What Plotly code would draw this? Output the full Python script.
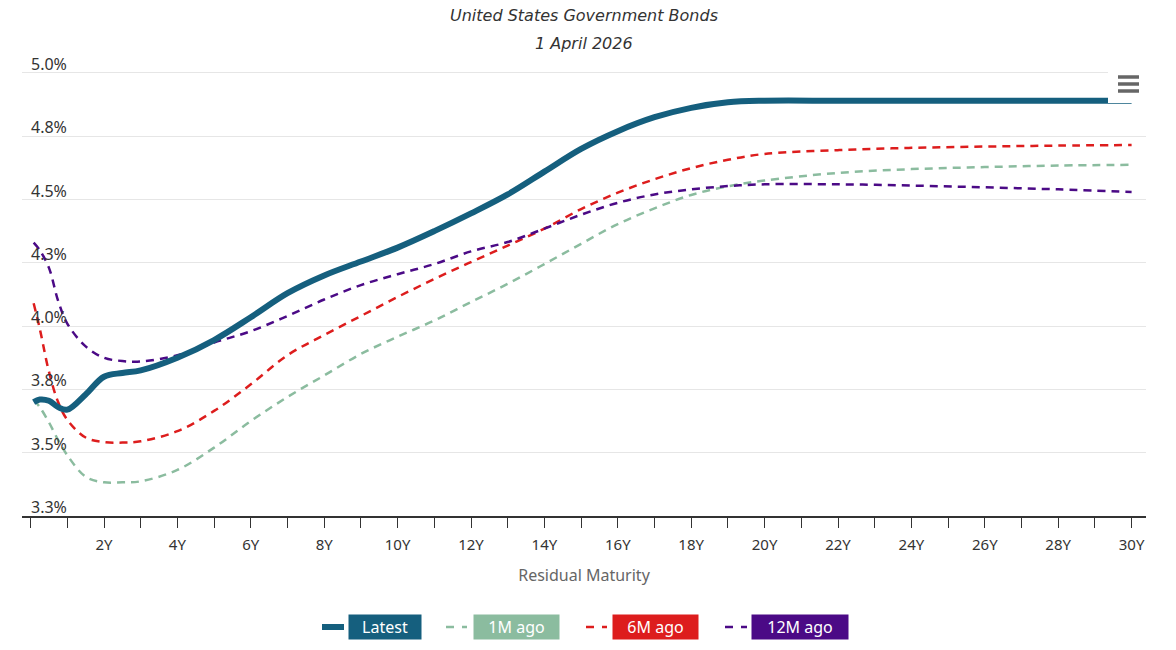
import plotly.graph_objects as go

# ---- data ----
maturity = [0.083, 0.25, 0.5, 0.75, 1, 1.5, 2, 2.5, 3, 4, 5, 6, 7, 8, 9, 10,
            11, 12, 13, 14, 15, 16, 17, 18, 19, 20, 22, 24, 26, 28, 30]

latest = [3.70, 3.71, 3.705, 3.68, 3.67, 3.73, 3.80, 3.815, 3.825, 3.875, 3.945,
          4.035, 4.13, 4.20, 4.255, 4.31, 4.375, 4.445, 4.52, 4.61, 4.70, 4.77,
          4.825, 4.862, 4.884, 4.89, 4.89, 4.89, 4.89, 4.89, 4.89]

m1_ago = [3.71, 3.68, 3.62, 3.55, 3.49, 3.405, 3.383, 3.383, 3.387, 3.432, 3.52,
          3.625, 3.72, 3.805, 3.89, 3.958, 4.022, 4.095, 4.167, 4.245, 4.325,
          4.403, 4.465, 4.518, 4.552, 4.575, 4.605, 4.62, 4.628, 4.634, 4.637]

m6_ago = [4.09, 3.99, 3.82, 3.70, 3.63, 3.56, 3.542, 3.54, 3.545, 3.585, 3.665,
          3.77, 3.885, 3.965, 4.04, 4.115, 4.186, 4.253, 4.318, 4.385, 4.462,
          4.527, 4.58, 4.624, 4.657, 4.68, 4.695, 4.704, 4.709, 4.713, 4.715]

m12_ago = [4.33, 4.30, 4.23, 4.10, 4.01, 3.92, 3.875, 3.862, 3.86, 3.885, 3.935,
           3.98, 4.04, 4.105, 4.162, 4.205, 4.245, 4.295, 4.332, 4.385, 4.44,
           4.487, 4.52, 4.54, 4.553, 4.56, 4.56, 4.555, 4.548, 4.54, 4.53]

series_names = ["Latest", "1M ago", "6M ago", "12M ago"]
series_colors = ["#155f7e", "#8bbc9f", "#dd1d1d", "#4b0a86"]

x_tickvals = list(range(0, 31))
x_ticktext = [f"{k}Y" if (k % 2 == 0 and k > 0) else "" for k in x_tickvals]
y_tickvals = [3.25, 3.5, 3.75, 4.0, 4.25, 4.5, 4.75, 5.0]
y_ticktext = ["3.3%", "3.5%", "3.8%", "4.0%", "4.3%", "4.5%", "4.8%", "5.0%"]

title_text = "United States Government Bonds"
subtitle_text = "1 April 2026"
x_title = "Residual Maturity"

# ---- layout geometry (pixels) ----
W, H = 1176, 650
L, R, T, B = 22, 30, 71, 134
PW, PH = W - L - R, H - T - B
Y_SCALE = 253.2   # px per 1.0 of yield
X_SCALE = 36.7    # px per year
X0_PX = 30.6      # pixel of 0Y


def px_x(p):
    return (p - L) / PW


def px_y(p):
    return (H - B - p) / PH


fig = go.Figure()

values = [latest, m1_ago, m6_ago, m12_ago]
widths = [6, 2.5, 2.5, 2.5]
dashes = ["solid", "8px,6px", "8px,6px", "8px,6px"]
order = [1, 2, 3, 0]
for i in order:
    fig.add_trace(go.Scatter(
        x=maturity, y=values[i], name=series_names[i], mode="lines",
        line=dict(color=series_colors[i], width=widths[i], dash=dashes[i],
                  shape="spline", smoothing=1),
        showlegend=False,
    ))

annotations = [
    dict(text=f"<i>{title_text}</i>", x=0.5, xref="paper", y=px_y(15), yref="paper",
         showarrow=False, font=dict(family="DejaVu Sans", size=16, color="#333333"),
         xanchor="center", yanchor="middle"),
    dict(text=f"<i>{subtitle_text}</i>", x=0.5, xref="paper", y=px_y(43), yref="paper",
         showarrow=False, font=dict(family="DejaVu Sans", size=16, color="#333333"),
         xanchor="center", yanchor="middle"),
]

# y tick labels placed above their grid lines
for v, t in zip(y_tickvals, y_ticktext):
    annotations.append(dict(
        text=t, x=px_x(29), xref="paper", y=v, yref="y", yshift=9,
        showarrow=False, xanchor="left", yanchor="middle",
        font=dict(family="Noto Sans", size=16, color="#333333"),
    ))

shapes = []

# custom legend
legend_boxes = [(350, 420), (475, 558), (614, 697), (753, 847)]
legend_syms = [(322, 344), (446, 467), (586, 607), (725, 747)]
ly = 627
for i in range(4):
    b0, b1 = legend_boxes[i]
    annotations.append(dict(
        text=series_names[i], x=px_x((b0 + b1) / 2), xref="paper", y=px_y(ly), yref="paper",
        showarrow=False, xanchor="center", yanchor="middle",
        width=b1 - b0, height=22, bgcolor=series_colors[i],
        font=dict(family="Noto Sans", size=16, color="white"), borderpad=1,
    ))
    s0, s1 = legend_syms[i]
    shapes.append(dict(
        type="line", xref="paper", yref="paper",
        x0=px_x(s0), x1=px_x(s1), y0=px_y(ly), y1=px_y(ly),
        line=dict(color=series_colors[i], width=6 if i == 0 else 2.5,
                  dash="solid" if i == 0 else "8px,8px"),
    ))

# export-menu button
shapes.append(dict(type="rect", xref="paper", yref="paper",
                   x0=px_x(1108), x1=px_x(1146), y0=px_y(103), y1=px_y(64),
                   fillcolor="white", line=dict(width=0), layer="above"))
for yy in (77, 84, 91):
    shapes.append(dict(type="line", xref="paper", yref="paper",
                       x0=px_x(1118), x1=px_x(1139), y0=px_y(yy), y1=px_y(yy),
                       line=dict(color="#666666", width=3.5), layer="above"))

fig.update_layout(
    width=W, height=H,
    margin=dict(l=L, r=R, t=T, b=B, pad=0),
    paper_bgcolor="white", plot_bgcolor="white",
    font=dict(family="Noto Sans", size=15, color="#333333"),
    annotations=annotations, shapes=shapes,
    xaxis=dict(
        range=[(L - X0_PX) / X_SCALE, (L + PW - X0_PX) / X_SCALE],
        tickmode="array", tickvals=x_tickvals, ticktext=x_ticktext,
        ticks="outside", ticklen=10, tickwidth=1, tickcolor="#333333",
        showline=True, linecolor="#333333", linewidth=1.5,
        showgrid=False, zeroline=False,
        tickfont=dict(size=15, color="#333333"),
        ticklabelstandoff=4,
        title=dict(text=x_title, font=dict(size=16, color="#666666"), standoff=17),
    ),
    yaxis=dict(
        range=[3.25, 3.25 + PH / Y_SCALE],
        tickmode="array", tickvals=y_tickvals, ticktext=y_ticktext,
        showgrid=True, gridcolor="#e6e6e6", gridwidth=1,
        zeroline=False, showline=False, ticks="", showticklabels=False,
    ),
    hovermode="x",
)

fig.write_html("out.html")
